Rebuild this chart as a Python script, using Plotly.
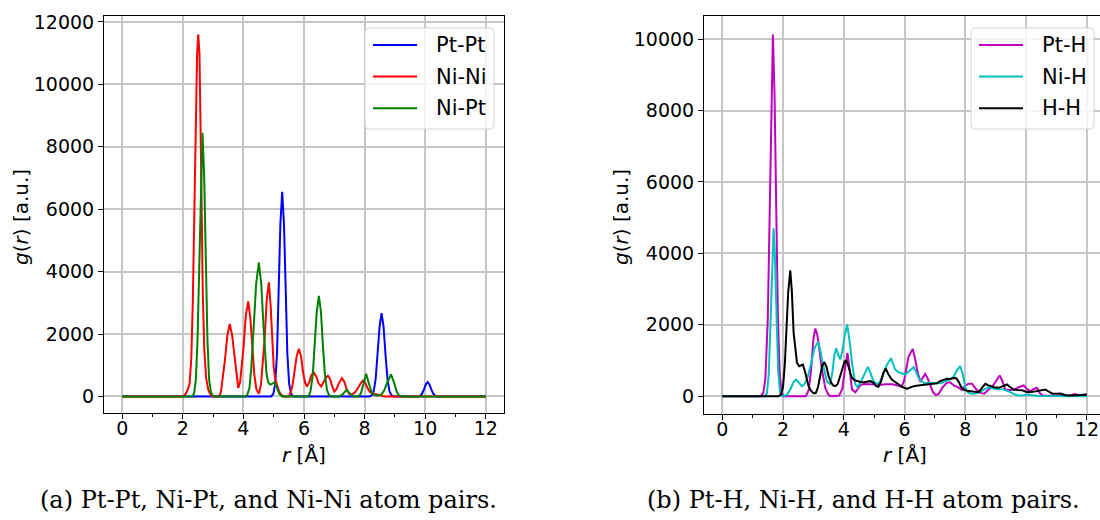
import plotly.graph_objects as go

# ---- radial distribution data, r in Angstrom, g(r) in arbitrary units ----
r_ptpt = [0.0, 4.92, 4.99, 5.05, 5.11, 5.16, 5.22, 5.28, 5.34, 5.40, 5.45, 5.51, 5.57, 5.64,
          8.16, 8.23, 8.30, 8.365, 8.43, 8.495, 8.56, 8.625, 8.69, 8.755, 8.82, 8.89, 8.96,
          9.76, 9.84, 9.90, 9.96, 10.02, 10.08, 10.14, 10.20, 10.26, 10.32, 10.40, 12.0]
g_ptpt = [0, 0, 90, 400, 1380, 3280, 5510, 6560, 5510, 3280, 1380, 400, 90, 0,
          0, 30, 165, 560, 1335, 2240, 2670, 2240, 1335, 560, 165, 30, 0,
          0, 28, 95, 230, 385, 460, 385, 230, 95, 28, 0, 0]

r_nini = [0.0, 2.00, 2.08, 2.15, 2.22, 2.28, 2.33, 2.37, 2.42, 2.47, 2.51, 2.55, 2.59, 2.62, 2.66,
          2.71, 2.77, 2.84, 2.91, 2.98, 3.20, 3.26, 3.32, 3.39, 3.47, 3.55, 3.63, 3.72, 3.78,
          3.83, 3.89, 3.95, 4.00, 4.08, 4.16, 4.23, 4.29, 4.36, 4.43, 4.51, 4.58, 4.64, 4.70,
          4.77, 4.84, 4.90, 4.95, 5.00, 5.05, 5.10, 5.17, 5.25, 5.33, 5.50, 5.57, 5.63, 5.69,
          5.76, 5.83, 5.90, 5.97, 6.04, 6.10, 6.17, 6.24, 6.32, 6.40, 6.48, 6.57, 6.65, 6.72,
          6.79, 6.86, 6.93, 7.00, 7.07, 7.15, 7.25, 7.33, 7.42, 7.50, 7.60, 7.70, 7.80, 7.88,
          7.95, 8.02, 8.10, 8.18, 8.28, 8.40, 8.52, 8.65, 12.0]
g_nini = [0, 0, 60, 180, 380, 1200, 3000, 5600, 8800, 10900, 11600, 11000, 8400, 5800, 3300,
          1500, 600, 220, 70, 0, 0, 150, 550, 1160, 1950, 2320, 1950, 1160, 560,
          270, 450, 950, 1520, 2600, 3043, 2500, 1520, 700, 230, 90, 380, 1100, 1830,
          3100, 3660, 2900, 1800, 950, 560, 380, 180, 50, 0, 0, 150, 420, 764,
          1300, 1528, 1300, 764, 430, 320, 450, 680, 770, 650, 420, 320, 450, 600,
          663, 560, 330, 160, 230, 420, 589, 470, 200, 80, 70, 150, 300, 440,
          510, 440, 260, 140, 100, 60, 20, 0, 0]

r_nipt = [0.0, 2.32, 2.375, 2.43, 2.485, 2.54, 2.595, 2.65, 2.705, 2.76, 2.815, 2.87, 2.93, 2.99,
          3.06, 4.07, 4.13, 4.20, 4.26, 4.335, 4.42, 4.51, 4.59, 4.67, 4.72, 4.76, 4.82, 4.88,
          4.96, 5.03, 5.10, 5.18, 5.28, 6.12, 6.17, 6.22, 6.29, 6.355, 6.42, 6.49, 6.56, 6.625,
          6.69, 6.76, 6.83, 6.90, 7.15, 7.28, 7.41, 7.52, 7.62, 7.80, 7.88, 7.96, 8.05, 8.14,
          8.23, 8.32, 8.42, 8.55, 8.65, 8.76, 8.87, 8.97, 9.06, 9.14, 9.22, 12.0]
g_nipt = [0, 0, 110, 530, 1780, 4228, 7100, 8450, 7100, 4228, 1780, 530, 130, 30,
          0, 0, 60, 270, 900, 2146, 3600, 4292, 3600, 2146, 1200, 750, 450, 380,
          410, 448, 300, 90, 0, 0, 40, 200, 700, 1612, 2710, 3225, 2710, 1612,
          700, 200, 40, 0, 0, 70, 214, 90, 0, 0, 100, 400, 727, 420,
          140, 40, 20, 60, 200, 480, 705, 450, 150, 30, 0, 0]

r_pth = [0.0, 1.25, 1.35, 1.42, 1.50, 1.557, 1.61, 1.667, 1.72, 1.777, 1.83, 1.89, 1.95, 2.02,
         2.75, 2.84, 2.92, 3.00, 3.06, 3.12, 3.17, 3.28, 3.39, 3.50, 3.60, 3.85, 3.95, 4.03,
         4.12, 4.20, 4.27, 4.38, 4.46, 4.54, 4.65, 4.80, 5.00, 5.20, 5.40, 5.60, 5.80, 5.90,
         5.98, 6.06, 6.13, 6.265, 6.36, 6.43, 6.52, 6.60, 6.68, 6.76, 6.85, 6.93, 7.03, 7.12,
         7.25, 7.40, 7.50, 7.62, 7.78, 7.89, 7.98, 8.10, 8.22, 8.35, 8.50, 8.62, 8.75, 8.90,
         9.02, 9.13, 9.22, 9.31, 9.45, 9.60, 9.75, 9.92, 10.05, 10.15, 10.25, 10.35, 10.45,
         10.55, 10.80, 11.20, 11.45, 11.60, 11.75, 11.90, 12.0]
g_pth = [0, 0, 80, 500, 2200, 5065, 8300, 10130, 8500, 5065, 2300, 650, 120, 0,
         0, 150, 700, 1600, 1890, 1750, 1490, 746, 233, 30, 0, 20, 200, 700,
         1213, 700, 190, 110, 200, 300, 340, 330, 330, 320, 330, 330, 290, 260,
         420, 800, 1100, 1325, 1000, 660, 400, 520, 625, 500, 280, 120, 30, 60,
         250, 380, 390, 300, 240, 170, 280, 350, 350, 200, 90, 70, 170, 280,
         440, 578, 420, 190, 170, 180, 250, 298, 180, 140, 200, 233, 80,
         15, 10, 10, 20, 60, 20, 10, 10]

r_nih = [0.0, 1.40, 1.47, 1.53, 1.60, 1.65, 1.69, 1.73, 1.78, 1.84, 1.90, 1.96, 2.12, 2.24,
         2.35, 2.435, 2.52, 2.62, 2.72, 2.82, 2.92, 3.03, 3.15, 3.22, 3.28, 3.36, 3.44, 3.55,
         3.63, 3.69, 3.75, 3.82, 3.88, 3.95, 4.03, 4.11, 4.19, 4.27, 4.38, 4.45, 4.55, 4.65,
         4.79, 4.89, 4.98, 5.09, 5.18, 5.26, 5.40, 5.55, 5.62, 5.69, 5.78, 5.86, 6.02, 6.15,
         6.30, 6.38, 6.46, 6.55, 6.63, 6.80, 7.06, 7.20, 7.34, 7.50, 7.62, 7.72, 7.83, 7.92,
         8.00, 8.08, 8.16, 8.30, 8.45, 8.60, 8.76, 9.00, 9.25, 9.48, 9.62, 9.75, 9.90, 10.03,
         10.20, 10.40, 12.0]
g_nih = [0, 0, 80, 600, 2350, 4000, 4700, 4000, 2350, 700, 120, 0, 30, 187,
         400, 460, 380, 280, 350, 560, 900, 1330, 1520, 1300, 1026, 680, 420, 330,
         700, 1150, 1340, 1150, 1030, 1250, 1700, 2006, 1550, 933, 330, 252, 380, 560,
         821, 620, 420, 330, 400, 513, 850, 1063, 930, 746, 680, 653, 606, 700,
         811, 680, 513, 420, 373, 370, 373, 360, 420, 470, 550, 720, 840, 600,
         233, 110, 75, 70, 110, 168, 250, 200, 190, 112, 50, 20, 20, 47,
         30, 5, 0]

r_hh = [0.0, 1.85, 1.93, 2.00, 2.06, 2.11, 2.17, 2.238, 2.29, 2.35, 2.41, 2.46, 2.53, 2.60,
        2.655, 2.72, 2.78, 2.84, 2.93, 3.02, 3.08, 3.15, 3.23, 3.29, 3.36, 3.43, 3.50, 3.58,
        3.65, 3.72, 3.80, 3.88, 3.95, 4.03, 4.08, 4.15, 4.21, 4.27, 4.35, 4.43, 4.55, 4.65,
        4.76, 4.87, 4.98, 5.07, 5.14, 5.22, 5.30, 5.38, 5.46, 5.58, 5.70, 5.80, 5.92, 6.08,
        6.20, 6.30, 6.45, 6.63, 6.80, 6.96, 7.06, 7.17, 7.28, 7.39, 7.50, 7.61, 7.70, 7.78,
        7.86, 7.94, 8.05, 8.16, 8.30, 8.44, 8.55, 8.66, 8.74, 8.82, 8.95, 9.10, 9.25, 9.37,
        9.48, 9.59, 9.72, 9.86, 9.97, 10.08, 10.22, 10.36, 10.50, 10.63, 10.74, 10.85, 11.00,
        11.12, 11.25, 11.35, 11.50, 11.67, 11.80, 11.95, 12.0]
g_hh = [0, 0, 40, 250, 900, 1763, 2900, 3526, 2950, 1763, 1200, 933, 840, 870,
        886, 700, 450, 280, 140, 75, 90, 250, 600, 850, 951, 830, 560, 380,
        300, 280, 340, 560, 820, 980, 998, 850, 650, 513, 450, 420, 395, 392,
        410, 420, 374, 280, 261, 400, 650, 774, 620, 467, 390, 327, 260, 206,
        240, 280, 300, 317, 330, 355, 360, 420, 460, 485, 480, 510, 500, 400,
        260, 187, 150, 140, 125, 112, 240, 345, 310, 280, 250, 233, 290, 326,
        250, 187, 175, 168, 130, 112, 120, 140, 170, 187, 130, 75, 70,
        75, 40, 20, 15, 15, 30, 47, 40]

panel_a = [("Pt-Pt", r_ptpt, g_ptpt, "#0000ff"),
           ("Ni-Ni", r_nini, g_nini, "#ff0000"),
           ("Ni-Pt", r_nipt, g_nipt, "#008000")]
panel_b = [("Pt-H", r_pth, g_pth, "#bf00bf"),
           ("Ni-H", r_nih, g_nih, "#00bfbf"),
           ("H-H", r_hh, g_hh, "#000000")]

W, H = 1100, 520
FONT = "DejaVu Sans"


def px(x):
    return x / W


def py(y):
    return 1 - y / H


fig = go.Figure()
for name, r, g, col in panel_a:
    fig.add_trace(go.Scatter(x=r, y=g, mode="lines", name=name, showlegend=False,
                             line=dict(color=col, width=2), xaxis="x", yaxis="y"))
for name, r, g, col in panel_b:
    fig.add_trace(go.Scatter(x=r, y=g, mode="lines", name=name, showlegend=False,
                             line=dict(color=col, width=2), xaxis="x2", yaxis="y2"))

grid = "#c6c6c6"
tickfont = dict(family=FONT, size=19, color="black")


def xaxis_style(domain, rng, anchor):
    return dict(domain=domain, range=rng, anchor=anchor, tickmode="array",
                tickvals=[0, 2, 4, 6, 8, 10, 12],
                ticks="outside", ticklen=5, tickwidth=1, tickcolor="black",
                ticklabelstandoff=-7, ticklabeloverflow="allow",
                minor=dict(ticks="outside", ticklen=3, tickwidth=1, tickcolor="black",
                           tickmode="array", tickvals=[1, 3, 5, 7, 9, 11], showgrid=False),
                showgrid=True, gridcolor=grid, gridwidth=1.5, zeroline=False,
                showline=True, linecolor="black", linewidth=1, mirror=True,
                tickfont=tickfont, automargin=False, fixedrange=True)


def yaxis_style(domain, rng, anchor, mirror):
    return dict(domain=domain, range=rng, dtick=2000, tick0=0, tickformat="d",
                ticks="outside", ticklen=5, tickwidth=1, tickcolor="black",
                showgrid=True, gridcolor=grid, gridwidth=1.5, zeroline=False,
                showline=True, linecolor="black", linewidth=1, mirror=mirror,
                tickfont=tickfont, automargin=False, anchor=anchor, fixedrange=True)


# right panel runs to the page edge, so its frame has no right-hand side
fig.update_layout(
    width=W, height=H,
    margin=dict(l=0, r=0, t=0, b=0),
    paper_bgcolor="white", plot_bgcolor="white",
    font=dict(family=FONT, color="black"),
    xaxis=xaxis_style([px(104), px(504)], [-0.6, 12.6], "y"),
    yaxis=yaxis_style([py(413), py(16)], [-530, 12190], "x", True),
    xaxis2=xaxis_style([px(704), 1.0], [-0.6, 12.43], "y2"),
    yaxis2=yaxis_style([py(414), py(16)], [-500, 10650], "x2", False),
    showlegend=False,
)

# ---- legends: rounded frame, sample line and label for each series ----
shapes = []
ann = []
leg_font = dict(family=FONT, size=21, color="black")


def rounded_box(x0, y0, x1, y1, rad=4):
    a0, a1 = px(x0), px(x1)
    b0, b1 = py(y1), py(y0)
    rx, ry = rad / W, rad / H
    return (f"M{a0 + rx},{b0} L{a1 - rx},{b0} Q{a1},{b0} {a1},{b0 + ry} "
            f"L{a1},{b1 - ry} Q{a1},{b1} {a1 - rx},{b1} L{a0 + rx},{b1} "
            f"Q{a0},{b1} {a0},{b1 - ry} L{a0},{b0 + ry} Q{a0},{b0} {a0 + rx},{b0} Z")


for series, (bx0, bx1, lx0, lx1, tx) in [(panel_a, (365, 494, 373, 417, 434)),
                                         (panel_b, (971, 1094, 979, 1023, 1040))]:
    shapes.append(dict(type="path", xref="paper", yref="paper",
                       path=rounded_box(bx0, 28, bx1, 129),
                       fillcolor="rgba(255,255,255,0.8)",
                       line=dict(color="#d4d4d4", width=1), layer="above"))
    for i, (name, _, _, col) in enumerate(series):
        yrow = 45 + 31.6 * i
        shapes.append(dict(type="line", xref="paper", yref="paper",
                           x0=px(lx0), x1=px(lx1), y0=py(yrow), y1=py(yrow),
                           line=dict(color=col, width=2), layer="above"))
        ann.append(dict(x=px(tx), y=py(yrow), xref="paper", yref="paper", showarrow=False,
                        text=name, font=leg_font, xanchor="left", yanchor="middle"))

label_font = dict(family=FONT, size=20, color="black")
for xc in [21, 621]:
    ann.append(dict(x=px(xc), y=py(217), xref="paper", yref="paper", showarrow=False,
                    text="<i>g</i>(<i>r</i>) [a.u.]", textangle=-90, font=label_font,
                    xanchor="center", yanchor="middle"))
for xc in [304, 905]:
    ann.append(dict(x=px(xc), y=py(455), xref="paper", yref="paper", showarrow=False,
                    text="<i>r</i> [Å]", font=label_font, xanchor="center", yanchor="middle"))

cap_font = dict(family="DejaVu Serif", size=24, color="black")
ann.append(dict(x=px(268), y=py(500), xref="paper", yref="paper", showarrow=False,
                text="(a) Pt-Pt, Ni-Pt, and Ni-Ni atom pairs.", font=cap_font,
                xanchor="center", yanchor="middle"))
ann.append(dict(x=px(863), y=py(500), xref="paper", yref="paper", showarrow=False,
                text="(b) Pt-H, Ni-H, and H-H atom pairs.", font=cap_font,
                xanchor="center", yanchor="middle"))

fig.update_layout(shapes=shapes, annotations=ann)

fig.write_html("out.html", include_plotlyjs=True, full_html=True,
               config=dict(displayModeBar=False))
